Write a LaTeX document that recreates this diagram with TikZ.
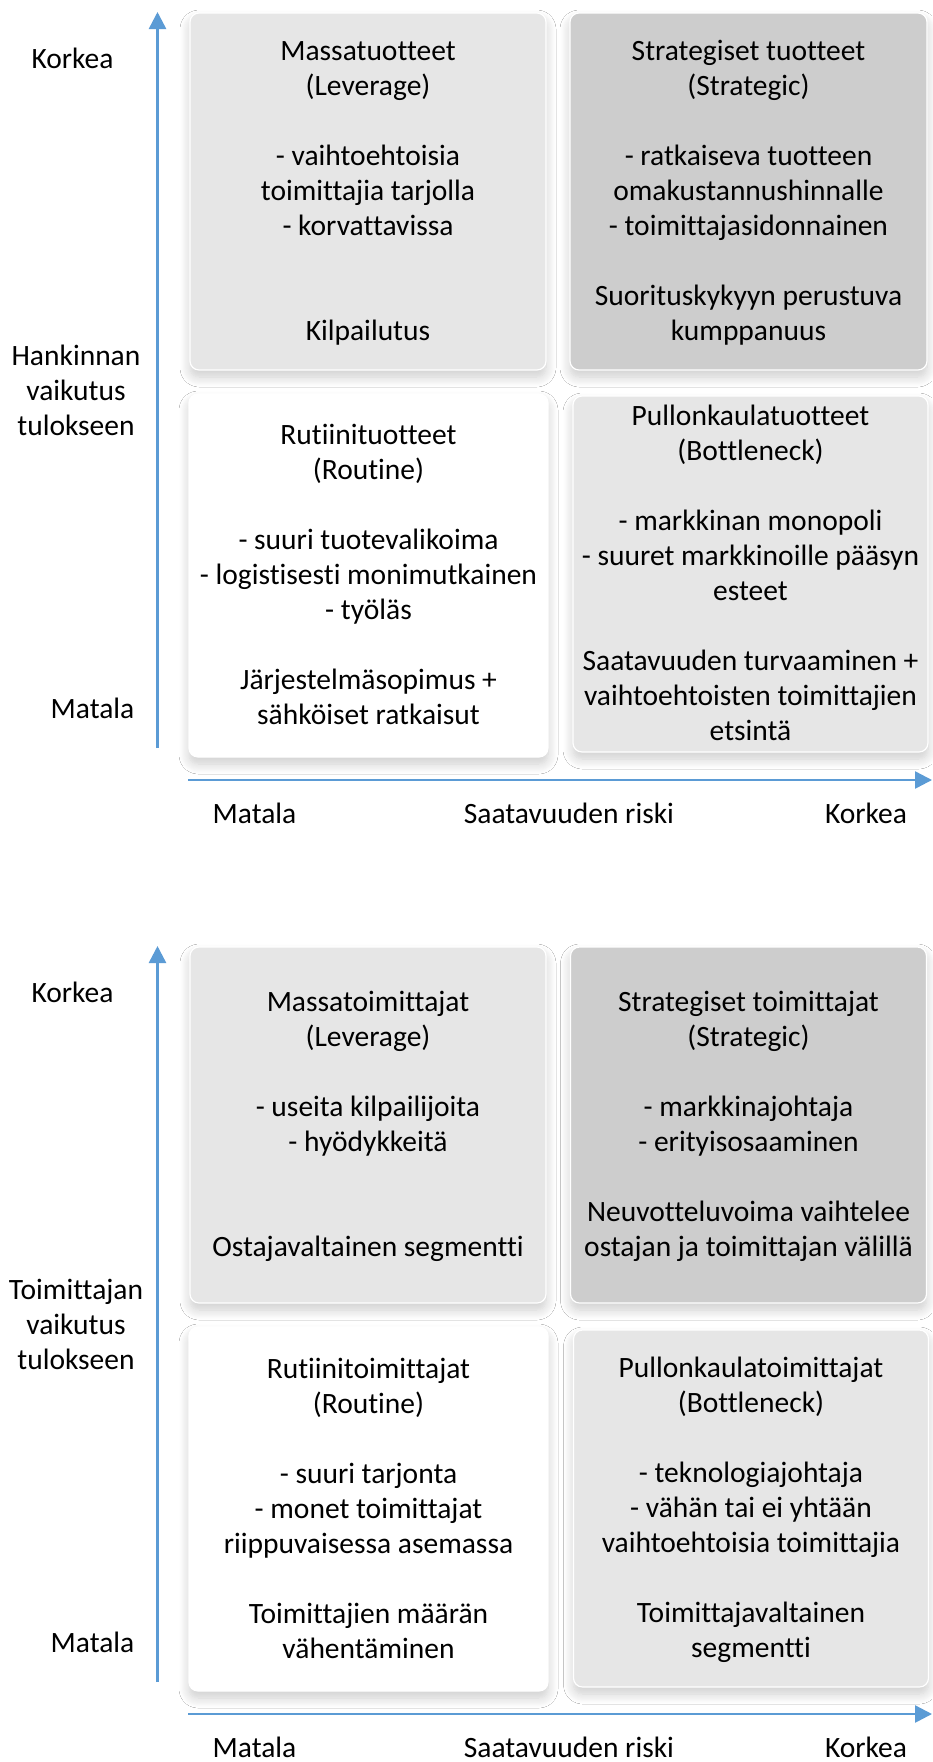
\documentclass[tikz,border=0pt]{standalone}
\usepackage{fontspec}
\setmainfont{Carlito}[Ligatures=NoCommon]
\usetikzlibrary{arrows.meta,shadows.blur}
\definecolor{axisblue}{HTML}{5B9BD5}
\definecolor{boxA}{HTML}{E6E6E6}
\definecolor{boxB}{HTML}{CDCDCD}
\newcommand\tstr{\rule{0pt}{24pt}}
\newcommand\bstr{\rule[-6pt]{0pt}{6pt}}
\tikzset{
  quad/.style={draw=white, line width=1.2pt, rounded corners=9pt, align=center,
    font=\fontsize{29.5}{35}\selectfont, inner sep=0pt,
    blur shadow={shadow xshift=0pt, shadow yshift=-7pt, shadow blur radius=10pt,
      shadow opacity=20, shadow blur steps=12}},
  lbl/.style={font=\fontsize{29.5}{35}\selectfont, align=center, inner sep=0pt},
  axis/.style={draw=axisblue, line width=2.5pt, -{Triangle[width=17pt,length=17pt]}},
}
\begin{document}
\begin{tikzpicture}[x=1pt,y=-1pt]
\useasboundingbox (0,0) rectangle (932,1762);
\fill[white] (0,0) rectangle (932,1762);

% ---------- top chart ----------
\node[quad, fill=boxA, minimum width=356pt, minimum height=357pt] (tl1) at (368,191.5)
 {\tstr Massatuotteet\\(Leverage)\\~\\- vaihtoehtoisia\\toimittajia tarjolla\\- korvattavissa\\~\\~\\Kilpailutus\bstr};
\node[quad, fill=boxB, minimum width=357pt, minimum height=357pt] (tr1) at (748.5,191.5)
 {\tstr Strategiset tuotteet\\(Strategic)\\~\\- ratkaiseva tuotteen\\omakustannushinnalle\\- toimittajasidonnainen\\~\\Suorituskykyyn perustuva\\kumppanuus\bstr};
\node[quad, fill=white, minimum width=359pt, minimum height=363pt] (bl1) at (368.5,575.5)
 {\tstr Rutiinituotteet\\(Routine)\\~\\- suuri tuotevalikoima\\- logistisesti monimutkainen\\- työläs\\~\\Järjestelmäsopimus +\\sähköiset ratkaisut\bstr};
\node[quad, fill=boxA, minimum width=355pt, minimum height=356pt] (br1) at (750.5,574)
 {\tstr Pullonkaulatuotteet\\(Bottleneck)\\~\\- markkinan monopoli\\- suuret markkinoille pääsyn\\esteet\\~\\Saatavuuden turvaaminen +\\vaihtoehtoisten toimittajien\\etsintä\bstr};

\coordinate (v1b) at (157.5,748);
\coordinate (v1t) at (157.5,12);
\draw[axis] (v1b) -- (v1t);
\coordinate (h1l) at (188,780);
\coordinate (h1r) at (932,780);
\draw[axis] (h1l) -- (h1r);

\node[lbl, anchor=base] (ykor1) at (72.5,68) {Korkea};
\node[lbl] (ytit1) at (76,391) {\tstr Hankinnan\\vaikutus\\tulokseen\bstr};
\node[lbl, anchor=base] (ymat1) at (92.5,718) {Matala};
\node[lbl, anchor=base] (xmat1) at (254.5,823) {Matala};
\node[lbl, anchor=base] (xtit1) at (569,823) {Saatavuuden riski};
\node[lbl, anchor=base] (xkor1) at (866,823) {Korkea};

% ---------- bottom chart ----------
\node[quad, fill=boxA, minimum width=356pt, minimum height=356pt] (tl2) at (368,1125)
 {\tstr Massatoimittajat\\(Leverage)\\~\\- useita kilpailijoita\\- hyödykkeitä\\~\\~\\Ostajavaltainen segmentti\bstr};
\node[quad, fill=boxB, minimum width=356pt, minimum height=356pt] (tr2) at (748.5,1125)
 {\tstr Strategiset toimittajat\\(Strategic)\\~\\- markkinajohtaja\\- erityisosaaminen\\~\\Neuvotteluvoima vaihtelee\\ostajan ja toimittajan välillä\bstr};
\node[quad, fill=white, minimum width=359pt, minimum height=364pt] (bl2) at (368.5,1509)
 {\tstr Rutiinitoimittajat\\(Routine)\\~\\- suuri tarjonta\\- monet toimittajat\\riippuvaisessa asemassa\\~\\Toimittajien määrän\\vähentäminen\bstr};
\node[quad, fill=boxA, minimum width=355pt, minimum height=357pt] (br2) at (751,1508.5)
 {\tstr Pullonkaulatoimittajat\\(Bottleneck)\\~\\- teknologiajohtaja\\- vähän tai ei yhtään\\vaihtoehtoisia toimittajia\\~\\Toimittajavaltainen\\segmentti\bstr};

\coordinate (v2b) at (157.5,1682);
\coordinate (v2t) at (157.5,946);
\draw[axis] (v2b) -- (v2t);
\coordinate (h2l) at (188,1714);
\coordinate (h2r) at (932,1714);
\draw[axis] (h2l) -- (h2r);

\node[lbl, anchor=base] (ykor2) at (72.5,1002) {Korkea};
\node[lbl] (ytit2) at (76,1325) {\tstr Toimittajan\\vaikutus\\tulokseen\bstr};
\node[lbl, anchor=base] (ymat2) at (92.5,1652) {Matala};
\node[lbl, anchor=base] (xmat2) at (254.5,1757) {Matala};
\node[lbl, anchor=base] (xtit2) at (569,1757) {Saatavuuden riski};
\node[lbl, anchor=base] (xkor2) at (866,1757) {Korkea};
\end{tikzpicture}
\end{document}
